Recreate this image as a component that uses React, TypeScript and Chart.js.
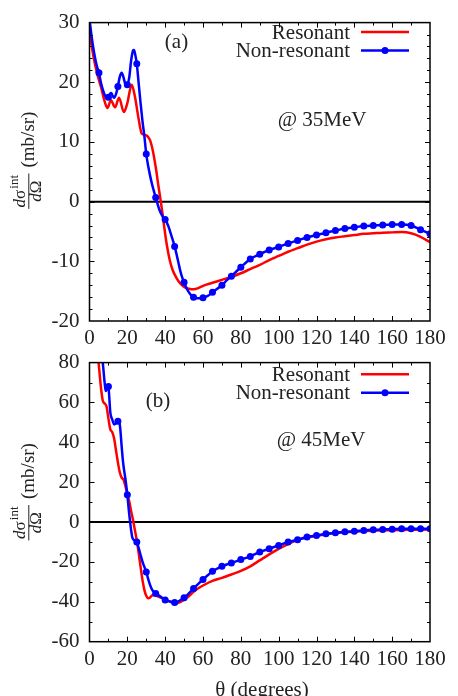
import React, { useEffect, useRef } from 'react';
import { Chart, registerables } from 'chart.js';

Chart.register(...registerables);

// ---------- data ----------
const seriesLabels = ['Resonant', 'Non-resonant'];
const panelTags = ['(a)', '(b)'];
const energyLabels = ['@ 35MeV', '@ 45MeV'];
const xTitle = 'θ (degrees)';
const xTicks = [0, 20, 40, 60, 80, 100, 120, 140, 160, 180];
const yTicksA = [-20, -10, 0, 10, 20, 30];
const yTicksB = [-60, -40, -20, 0, 20, 40, 60, 80];

// Panel (a), 35 MeV
const thetaResA = [0, 2, 4, 6, 8, 9.5, 11.3, 13.5, 15.6, 18.2, 20, 22.3, 24, 26, 27.6, 29, 30.5, 32, 33.5, 35, 36.5, 37.7, 39, 40.5, 42.5, 44, 46, 48, 50, 52.5, 55, 57.5, 60, 65, 70, 75, 80, 85, 90, 95, 100, 105, 110, 115, 120, 125, 130, 135, 140, 145, 150, 155, 160, 165, 170, 175, 180];
const resA = [28.5, 24.5, 21.5, 19.3, 16.8, 15.7, 17.0, 15.8, 17.4, 15.0, 16.5, 19.6, 17.6, 13.8, 11.4, 11.2, 11.0, 10.3, 8.5, 5.8, 2.5, 0, -3.0, -6.5, -9.9, -11.5, -12.8, -13.7, -14.3, -14.6, -14.7, -14.5, -14.1, -13.6, -13.1, -12.6, -12.0, -11.3, -10.6, -9.8, -9.1, -8.4, -7.8, -7.2, -6.7, -6.3, -6.0, -5.8, -5.6, -5.4, -5.3, -5.2, -5.15, -5.1, -5.3, -5.9, -6.8];

const thetaNonA = [0, 1, 2, 3, 4, 5, 6, 7, 8, 9, 10, 11, 11.5, 12, 13, 14, 15, 16, 17, 18, 19, 20, 21, 22, 23, 23.5, 24, 25, 26, 27, 28, 29, 30, 31, 32, 33, 34, 35, 36, 37, 38, 39, 40, 41, 42, 43, 44, 45, 46, 47, 48, 49, 50, 51, 52, 53, 54, 55, 57, 60, 62.5, 65, 67.5, 70, 72.5, 75, 80, 85, 90, 95, 100, 105, 110, 115, 120, 125, 130, 135, 140, 145, 150, 155, 160, 165, 170, 175, 180];
const nonA = [30.5, 28.0, 25.8, 24.0, 22.6, 21.6, 20.0, 18.8, 17.9, 17.4, 17.5, 18.1, 18.2, 17.9, 17.4, 18.0, 19.3, 20.9, 21.6, 20.8, 19.7, 19.6, 20.8, 23.6, 25.3, 25.4, 24.9, 23.1, 19.8, 16.5, 13.5, 11.0, 8.0, 6.0, 4.4, 3.0, 1.8, 0.7, -0.4, -1.4, -2.1, -2.6, -3.0, -3.6, -4.4, -5.4, -6.4, -7.5, -8.8, -10.2, -11.6, -12.7, -13.5, -14.3, -14.9, -15.4, -15.8, -16.0, -16.2, -16.1, -15.8, -15.2, -14.6, -14.0, -13.2, -12.5, -11.0, -9.6, -8.8, -8.1, -7.6, -7.0, -6.5, -6.0, -5.6, -5.2, -4.85, -4.5, -4.3, -4.1, -4.0, -3.9, -3.85, -3.85, -4.0, -4.7, -5.4];

// Panel (b), 45 MeV
const thetaResB = [0, 2, 4, 5, 6, 7, 8, 9, 10, 11, 12, 13, 14, 15, 16, 17, 18, 19, 20, 21, 22, 23, 24, 25, 26, 27, 28, 29, 30, 31, 32, 33, 34, 36, 38, 40, 42, 44, 45.5, 47, 50, 52.5, 55, 57.5, 60, 65, 70, 75, 80, 85, 90, 95, 100, 105, 110, 115, 120, 125, 130, 135, 140, 150, 160, 170, 180];
const resB = [135, 110, 88, 78, 68, 61, 59.5, 58, 52, 46.5, 45.2, 42, 36, 30, 25, 22.3, 21.2, 18, 14, 10.5, 5.5, 1, -4, -9.2, -15.5, -22.5, -29, -34, -37, -38.2, -37.8, -36.8, -36.6, -37.2, -38.0, -38.8, -39.6, -40.4, -40.8, -40.5, -39.0, -37.2, -35.0, -33.2, -31.8, -29.5, -28.0, -26.3, -24.5, -22.2, -19.2, -16.2, -13.4, -11.0, -8.9, -7.8, -6.9, -6.1, -5.5, -5.1, -4.8, -4.3, -4.1, -3.9, -3.7];

const thetaNonB = [0, 3, 5, 6, 7, 8, 8.6, 9.3, 10, 10.5, 11, 12, 13, 14, 15, 16, 17, 17.5, 18, 19, 20, 21, 22, 22.6, 23.5, 25, 26, 27, 28, 29, 30, 31, 32, 33, 34, 35, 37, 40, 42.5, 45, 47.5, 50, 52.5, 55, 57.5, 60, 62.5, 65, 70, 75, 80, 85, 90, 95, 100, 105, 110, 115, 120, 125, 130, 135, 140, 145, 150, 155, 160, 165, 170, 175, 180];
const nonB = [160, 115, 95, 86, 80, 70, 65.7, 67, 68, 62, 55, 51.5, 49, 49.5, 50.6, 49, 38, 32.3, 28, 21.5, 13.7, 4, -4, -7.6, -9, -10, -13, -16.5, -19.8, -22.5, -25, -28.5, -31.5, -33.8, -35.0, -35.8, -37, -39.1, -39.8, -40.3, -39.5, -38, -35.8, -33.3, -31, -28.8, -26.7, -24.7, -22.2, -20.5, -18.8, -17.2, -15.0, -13.4, -11.7, -10.0, -8.9, -7.5, -6.7, -5.9, -5.4, -4.9, -4.6, -4.2, -3.9, -3.7, -3.6, -3.4, -3.4, -3.3, -3.3];

// ---------- styling ----------
const FONT = '"Liberation Serif", "Times New Roman", serif';
const TEXT = '#222';
const RED = '#ff0000';
const BLUE = '#0000ff';

const zip = (xs: number[], ys: number[]) => xs.map((x, i) => ({ x, y: ys[i] }));

type Panel = {
  idx: number;
  resX: number[]; resY: number[]; nonX: number[]; nonY: number[];
  yTicks: number[]; yMinor: number;
  canvasH: number; top: number; bottom: number;
  tagPos: [number, number]; energyPos: [number, number];
  legendY: [number, number]; yTitleY: number;
  xTitleY: number | null;
};

const panelA: Panel = {
  idx: 0, resX: thetaResA, resY: resA, nonX: thetaNonA, nonY: nonA,
  yTicks: yTicksA, yMinor: 2,
  canvasH: 348, top: 18, bottom: 321,
  tagPos: [176.5, 42], energyPos: [322, 120],
  legendY: [32, 50.5], yTitleY: 170.5, xTitleY: null,
};
const panelB: Panel = {
  idx: 1, resX: thetaResB, resY: resB, nonX: thetaNonB, nonY: nonB,
  yTicks: yTicksB, yMinor: 10,
  canvasH: 356, top: 20.7, bottom: 301.7,
  tagPos: [158, 61.7], energyPos: [321, 100],
  legendY: [34.3, 52.7], yTitleY: 162, xTitleY: 355.5,
};

function decoPlugin(p: Panel) {
  return {
    id: 'deco' + p.idx,
    beforeDatasetsDraw(chart: any) {
      const { ctx, chartArea: a, scales } = chart;
      const y0 = scales.y.getPixelForValue(0);
      ctx.save();
      ctx.strokeStyle = '#000';
      ctx.lineWidth = 2;
      ctx.beginPath();
      ctx.moveTo(a.left, y0);
      ctx.lineTo(a.right, y0);
      ctx.stroke();
      ctx.restore();
    },
    afterDatasetsDraw(chart: any) {
      const { ctx, chartArea: a, scales } = chart;
      const xs = scales.x, ys = scales.y;
      ctx.save();
      // frame
      ctx.strokeStyle = '#000';
      ctx.lineWidth = 1.5;
      ctx.strokeRect(a.left, a.top, a.right - a.left, a.bottom - a.top);
      // ticks
      ctx.lineWidth = 1;
      ctx.beginPath();
      const xMin = xTicks[0], xMax = xTicks[xTicks.length - 1];
      for (let v = xMin + 10; v < xMax; v += 10) {
        const px = Math.round(xs.getPixelForValue(v)) + 0.5;
        const len = v % 20 === 0 ? 5 : 3;
        ctx.moveTo(px, a.bottom); ctx.lineTo(px, a.bottom - len);
        ctx.moveTo(px, a.top); ctx.lineTo(px, a.top + len);
      }
      const yMin = p.yTicks[0], yMax = p.yTicks[p.yTicks.length - 1];
      const yMajor = p.yTicks[1] - p.yTicks[0];
      for (let v = yMin + p.yMinor; v < yMax; v += p.yMinor) {
        const py = Math.round(ys.getPixelForValue(v)) + 0.5;
        const len = Math.abs(v % yMajor) < 1e-9 ? 5 : 3;
        ctx.moveTo(a.left, py); ctx.lineTo(a.left + len, py);
        ctx.moveTo(a.right, py); ctx.lineTo(a.right - len, py);
      }
      ctx.stroke();

      // legend
      ctx.font = `21px ${FONT}`;
      ctx.fillStyle = TEXT;
      ctx.textAlign = 'right';
      ctx.textBaseline = 'middle';
      chart.data.datasets.forEach((ds: any, i: number) => {
        const ly = p.legendY[i];
        ctx.fillStyle = TEXT;
        ctx.fillText(ds.label, 350, ly + 1);
        ctx.strokeStyle = ds.borderColor;
        ctx.lineWidth = 2.5;
        ctx.beginPath();
        ctx.moveTo(361, ly);
        ctx.lineTo(409, ly);
        ctx.stroke();
        if (i === 1) {
          ctx.fillStyle = ds.borderColor;
          ctx.beginPath();
          ctx.arc(385, ly, 3.5, 0, Math.PI * 2);
          ctx.fill();
        }
      });

      // annotations
      ctx.fillStyle = TEXT;
      ctx.textAlign = 'center';
      ctx.textBaseline = 'middle';
      ctx.font = `21px ${FONT}`;
      ctx.fillText(panelTags[p.idx], p.tagPos[0], p.tagPos[1]);
      ctx.fillText(energyLabels[p.idx], p.energyPos[0], p.energyPos[1]);

      // x title
      if (p.xTitleY !== null) {
        ctx.textBaseline = 'alphabetic';
        ctx.fillText(xTitle, 262, p.xTitleY);
      }

      // y title (rotated)
      ctx.translate(28.3, p.yTitleY);
      ctx.rotate(-Math.PI / 2);
      ctx.textAlign = 'left';
      ctx.textBaseline = 'alphabetic';
      const fs = 17;
      const ss = 13;
      ctx.font = `italic ${fs}px ${FONT}`;
      const wd = ctx.measureText('d').width;
      ctx.font = `${fs}px ${FONT}`;
      const ws = ctx.measureText('σ').width;
      const wO = ctx.measureText('Ω').width;
      ctx.font = `${ss}px ${FONT}`;
      const wi = ctx.measureText('int').width;
      const numW = wd + ws + wi + 1;
      const denW = wd + wO;
      const fracW = Math.max(numW, denW) + 3;
      const fracRight = -3;
      const fracLeft = fracRight - fracW;
      ctx.strokeStyle = TEXT;
      ctx.lineWidth = 1;
      ctx.beginPath();
      ctx.moveTo(fracLeft, 0.5);
      ctx.lineTo(fracRight, 0.5);
      ctx.stroke();
      let nx = fracLeft + (fracW - numW) / 2;
      ctx.font = `italic ${fs}px ${FONT}`;
      ctx.fillText('d', nx, -3);
      nx += wd;
      ctx.font = `${fs}px ${FONT}`;
      ctx.fillText('σ', nx, -3);
      nx += ws + 1;
      ctx.font = `${ss}px ${FONT}`;
      ctx.fillText('int', nx, -10);
      let dx = fracLeft + (fracW - denW) / 2;
      ctx.font = `italic ${fs}px ${FONT}`;
      ctx.fillText('d', dx, 13);
      dx += wd;
      ctx.font = `${fs}px ${FONT}`;
      ctx.fillText('Ω', dx, 13);
      ctx.font = `19px ${FONT}`;
      ctx.fillText('(mb/sr)', 3, 5.5);
      ctx.restore();
    },
  };
}

function buildConfig(p: Panel): any {
  const yMin = p.yTicks[0], yMax = p.yTicks[p.yTicks.length - 1];
  return {
    type: 'line',
    data: {
      datasets: [
        {
          label: seriesLabels[0],
          data: zip(p.resX, p.resY),
          borderColor: RED,
          backgroundColor: RED,
          borderWidth: 2.5,
          pointRadius: 0,
          pointHoverRadius: 0,
          cubicInterpolationMode: 'monotone',
          order: 1,
        },
        {
          label: seriesLabels[1],
          data: zip(p.nonX, p.nonY),
          borderColor: BLUE,
          backgroundColor: BLUE,
          borderWidth: 2.5,
          pointRadius: (c: any) => (c.raw && c.raw.x % 5 === 0 ? 3.5 : 0),
          pointBorderWidth: 0,
          pointHoverRadius: 0,
          cubicInterpolationMode: 'monotone',
          order: 0,
        },
      ],
    },
    options: {
      responsive: false,
      animation: false,
      events: [],
      layout: { padding: { top: p.top, right: 28, left: 0, bottom: 0 } },
      plugins: { legend: { display: false }, tooltip: { enabled: false } },
      scales: {
        x: {
          type: 'linear',
          min: xTicks[0],
          max: xTicks[xTicks.length - 1],
          afterBuildTicks: (s: any) => { s.ticks = xTicks.map((v) => ({ value: v })); },
          afterFit: (s: any) => { s.height = p.canvasH - p.bottom; },
          grid: { display: false, drawTicks: false },
          border: { display: false },
          ticks: {
            autoSkip: false, maxRotation: 0, minRotation: 0, padding: 5,
            color: TEXT, font: { family: FONT, size: 21 },
            callback: (v: any) => String(v),
          },
        },
        y: {
          type: 'linear',
          min: yMin,
          max: yMax,
          afterBuildTicks: (s: any) => { s.ticks = p.yTicks.map((v) => ({ value: v })); },
          afterFit: (s: any) => { s.width = 89.5; },
          grid: { display: false, drawTicks: false },
          border: { display: false },
          ticks: {
            padding: 10, color: TEXT, font: { family: FONT, size: 21 },
            callback: (v: any) => String(v),
          },
        },
      },
    },
    plugins: [decoPlugin(p)],
  };
}

export default function App() {
  const topRef = useRef<HTMLCanvasElement>(null);
  const botRef = useRef<HTMLCanvasElement>(null);
  useEffect(() => {
    const c1 = new Chart(topRef.current as HTMLCanvasElement, buildConfig(panelA));
    const c2 = new Chart(botRef.current as HTMLCanvasElement, buildConfig(panelB));
    return () => { c1.destroy(); c2.destroy(); };
  }, []);
  return (
    <div style={{ position: 'absolute', left: 0, top: 0, width: 458, height: 696, background: '#fff', overflow: 'hidden' }}>
      <canvas ref={topRef} width={458} height={348} style={{ position: 'absolute', left: 0, top: 0, width: 458, height: 348 }} />
      <canvas ref={botRef} width={458} height={356} style={{ position: 'absolute', left: 0, top: 340, width: 458, height: 356 }} />
    </div>
  );
}
